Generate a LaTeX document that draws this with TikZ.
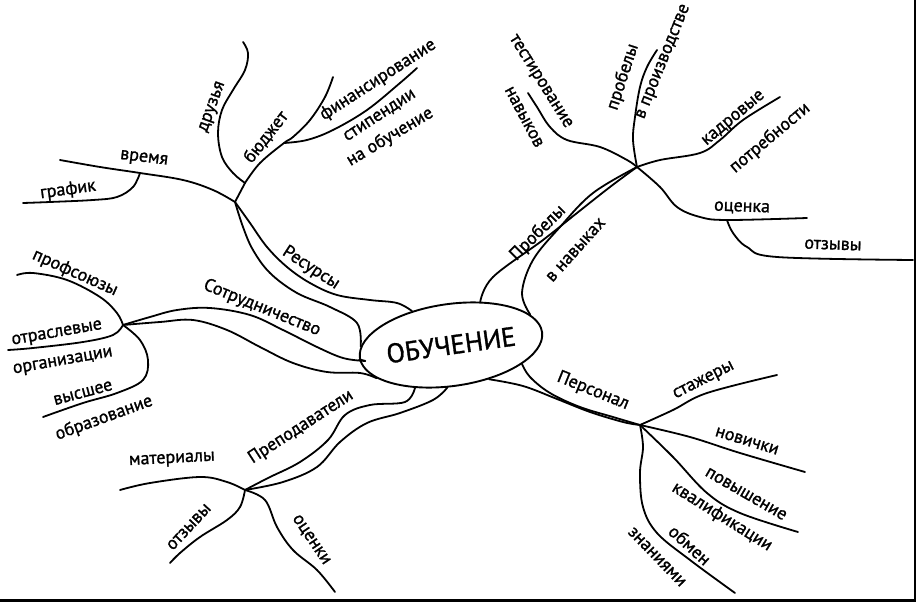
\documentclass[tikz,border=0pt]{standalone}
\usepackage{fontspec}
\setmainfont{PT Sans}[FakeBold=1.2]
\usetikzlibrary{shapes.geometric}
\tikzset{
  br/.style={draw, line width=1.8pt, line cap=round, line join=round},
  lbl/.style={inner sep=0pt, font=\fontsize{18}{20}\selectfont},
  hub/.style={draw, ellipse, line width=1.9pt, inner sep=0pt, minimum width=154pt, minimum height=82pt, font=\fontsize{27}{29}\selectfont}
}
\begin{document}
\begin{tikzpicture}[x=1pt,y=-1pt]
\useasboundingbox (0,0) rectangle (916,602);
\fill[white] (0,0) rectangle (916,602);
\fill[black] (0,599) rectangle (916,602);
\fill[black] (914,0) rectangle (916,602);

% central node
\node[hub, rotate=8] (ob) at (451,345) {ОБУЧЕНИЕ};

% junctions
\coordinate (jR) at (235,202);
\coordinate (jB) at (245,183);
\coordinate (jF) at (284,143);
\coordinate (jV) at (140,173);
\coordinate (jS) at (123,325);
\coordinate (jP) at (245,490);
\coordinate (jT) at (637,167);
\coordinate (jO) at (727,220);
\coordinate (jN) at (640,425);

% free ends
\coordinate (eDruz) at (243,42);
\coordinate (eBud) at (333,77);
\coordinate (eFin) at (417,68);
\coordinate (eVr) at (60,160);
\coordinate (eGr) at (23,203);
\coordinate (ePro) at (17,275);
\coordinate (eOtr) at (8,350);
\coordinate (eVys) at (43,417);
\coordinate (eMat) at (120,490);
\coordinate (eOtz) at (170,563);
\coordinate (eOc) at (335,592);
\coordinate (eTest) at (528,93);
\coordinate (eProb) at (657,50);
\coordinate (eKad) at (780,97);
\coordinate (eOcR) at (807,218);
\coordinate (eOtzR) at (913,260);
\coordinate (eSt) at (777,375);
\coordinate (eNov) at (805,472);
\coordinate (ePov) at (798,532);
\coordinate (eObm) at (735,593);

% Ресурсы
\draw[br] plot[smooth, tension=0.6] coordinates {(jR) (243,227) (253,250) (270,273) (297,293) (330,307) (357,323) (ob.173)};
\draw[br] plot[smooth, tension=0.6] coordinates {(jR) (250,223) (267,247) (287,267) (310,283) (337,295) (370,300) (397,303) (ob.131)};
\draw[br] (jR) -- (jB);
\draw[br] plot[smooth, tension=0.6] coordinates {(jB) (233,173) (222,157) (218,133) (222,110) (233,90) (245,70) (248,53) (eDruz)};
\draw[br] plot[smooth, tension=0.6] coordinates {(jB) (260,163) (jF) (293,137) (310,120) (325,97) (eBud)};
\draw[br] plot[smooth, tension=0.6] coordinates {(jF) (307,140) (333,130) (367,110) (400,83) (eFin)};
\draw[br] plot[smooth, tension=0.6] coordinates {(jR) (213,190) (183,180) (jV) (100,167) (eVr)};
\draw[br] plot[smooth, tension=0.6] coordinates {(jV) (133,187) (117,197) (93,200) (50,202) (eGr)};

% Сотрудничество
\draw[br] plot[smooth, tension=0.6] coordinates {(jS) (150,317) (177,310) (210,308) (250,315) (283,330) (317,347) (343,358) (365,361) (ob.181)};
\draw[br] plot[smooth, tension=0.6] coordinates {(jS) (160,322) (193,320) (227,330) (260,347) (293,363) (327,372) (360,373) (ob.196)};
\draw[br] plot[smooth, tension=0.6] coordinates {(jS) (117,313) (100,297) (67,280) (33,273) (ePro)};
\draw[br] plot[smooth, tension=0.6] coordinates {(jS) (113,335) (83,342) (33,348) (eOtr)};
\draw[br] plot[smooth, tension=0.6] coordinates {(jS) (140,340) (148,360) (143,380) (117,393) (83,403) (eVys)};

% Преподаватели
\draw[br] plot[smooth, tension=0.6] coordinates {(ob.222) (405,402) (370,405) (345,415) (328,440) (300,462) (268,478) (jP)};
\draw[br] plot[smooth, tension=0.6] coordinates {(ob.257) (433,400) (400,413) (367,423) (340,442) (317,467) (283,482) (jP)};
\draw[br] plot[smooth, tension=0.6] coordinates {(jP) (227,482) (200,477) (150,483) (eMat)};
\draw[br] plot[smooth, tension=0.6] coordinates {(jP) (240,507) (227,520) (200,537) (180,553) (eOtz)};
\draw[br] plot[smooth, tension=0.6] coordinates {(jP) (265,500) (277,527) (293,550) (317,570) (eOc)};

% Пробелы в навыках
\draw[br] plot[smooth, tension=0.6] coordinates {(ob.48) (493,277) (543,240) (577,213) (610,187) (jT)};
\draw[br] plot[smooth, tension=0.6] coordinates {(ob.13) (522,293) (533,260) (560,227) (593,193) (jT)};
\draw[br] plot[smooth, tension=0.6] coordinates {(jT) (627,160) (600,147) (567,140) (550,127) (537,107) (eTest)};
\draw[br] plot[smooth, tension=0.6] coordinates {(jT) (633,140) (635,117) (640,87) (647,67) (eProb)};
\draw[br] plot[smooth, tension=0.6] coordinates {(jT) (660,160) (700,153) (720,140) (743,120) (eKad)};
\draw[br] plot[smooth, tension=0.6] coordinates {(jT) (660,187) (677,207) (700,217) (jO) (eOcR)};
\draw[br] plot[smooth, tension=0.6] coordinates {(jO) (733,233) (747,247) (777,257) (eOtzR)};

% Персонал
\draw[br] plot[smooth, tension=0.6] coordinates {(ob.337) (530,377) (550,393) (580,407) (613,417) (jN)};
\draw[br] plot[smooth, tension=0.6] coordinates {(ob.310) (523,386) (557,399) (590,412) (623,422) (jN)};
\draw[br] plot[smooth, tension=0.6] coordinates {(jN) (673,410) (707,393) (eSt)};
\draw[br] plot[smooth, tension=0.6] coordinates {(jN) (690,437) (740,453) (eNov)};
\draw[br] plot[smooth, tension=0.6] coordinates {(jN) (673,457) (707,493) (740,513) (ePov)};
\draw[br] plot[smooth, tension=0.6] coordinates {(jN) (643,447) (640,473) (643,507) (657,533) (690,560) (eObm)};

% labels
\node[lbl, rotate=-33] (tRes) at (311,268) {Ресурсы};
\node[lbl, rotate=70] (tDruz) at (213,107) {друзья};
\node[lbl, rotate=52] (tBud) at (266,137) {бюджет};
\node[lbl, rotate=33] (tFin) at (378,80) {финансирование};
\node[lbl, rotate=33] (tStip) at (380,116) {стипендии};
\node[lbl, rotate=31] (tNaob) at (390,137) {на обучение};
\node[lbl, rotate=-7] (tVr) at (144,159) {время};
\node[lbl, rotate=8] (tGr) at (68,190) {график};

\node[lbl, rotate=-22] (tSotr) at (262,308) {Сотрудничество};
\node[lbl, rotate=-24] (tProf) at (75,273) {профсоюзы};
\node[lbl, rotate=10] (tOtr) at (57,334) {отраслевые};
\node[lbl, rotate=10] (tOrg) at (63,362) {организации};
\node[lbl, rotate=15] (tVys) at (83,393) {высшее};
\node[lbl, rotate=20] (tObr) at (104,418) {образование};

\node[lbl, rotate=33] (tPrep) at (301,427) {Преподаватели};
\node[lbl, rotate=3] (tMat) at (172,460) {материалы};
\node[lbl, rotate=47] (tOtz) at (189,527) {отзывы};
\node[lbl, rotate=-56] (tOc) at (311,540) {оценки};

\node[lbl, rotate=45] (tProb) at (538,233) {Пробелы};
\node[lbl, rotate=48] (tVnav) at (576,250) {в навыках};
\node[lbl, rotate=-58] (tTest) at (540,82) {тестирование};
\node[lbl, rotate=-62] (tNav) at (524,117) {навыков};
\node[lbl, rotate=72] (tProbl) at (623,77) {пробелы};
\node[lbl, rotate=68] (tVpr) at (664,62) {в производстве};
\node[lbl, rotate=40] (tKad) at (734,119) {кадровые};
\node[lbl, rotate=40] (tPotr) at (770,138) {потребности};
\node[lbl, rotate=-2] (tOcR) at (742,208) {оценка};
\node[lbl, rotate=-2] (tOtzR) at (833,245) {отзывы};

\node[lbl, rotate=-22] (tPers) at (593,391) {Персонал};
\node[lbl, rotate=27] (tSt) at (704,381) {стажеры};
\node[lbl, rotate=-17] (tNov) at (747,441) {новички};
\node[lbl, rotate=-30] (tPov) at (746,494) {повышение};
\node[lbl, rotate=-32] (tKval) at (722,517) {квалификации};
\node[lbl, rotate=-42] (tObm) at (690,545) {обмен};
\node[lbl, rotate=-46] (tZn) at (657,557) {знаниями};
\end{tikzpicture}
\end{document}
